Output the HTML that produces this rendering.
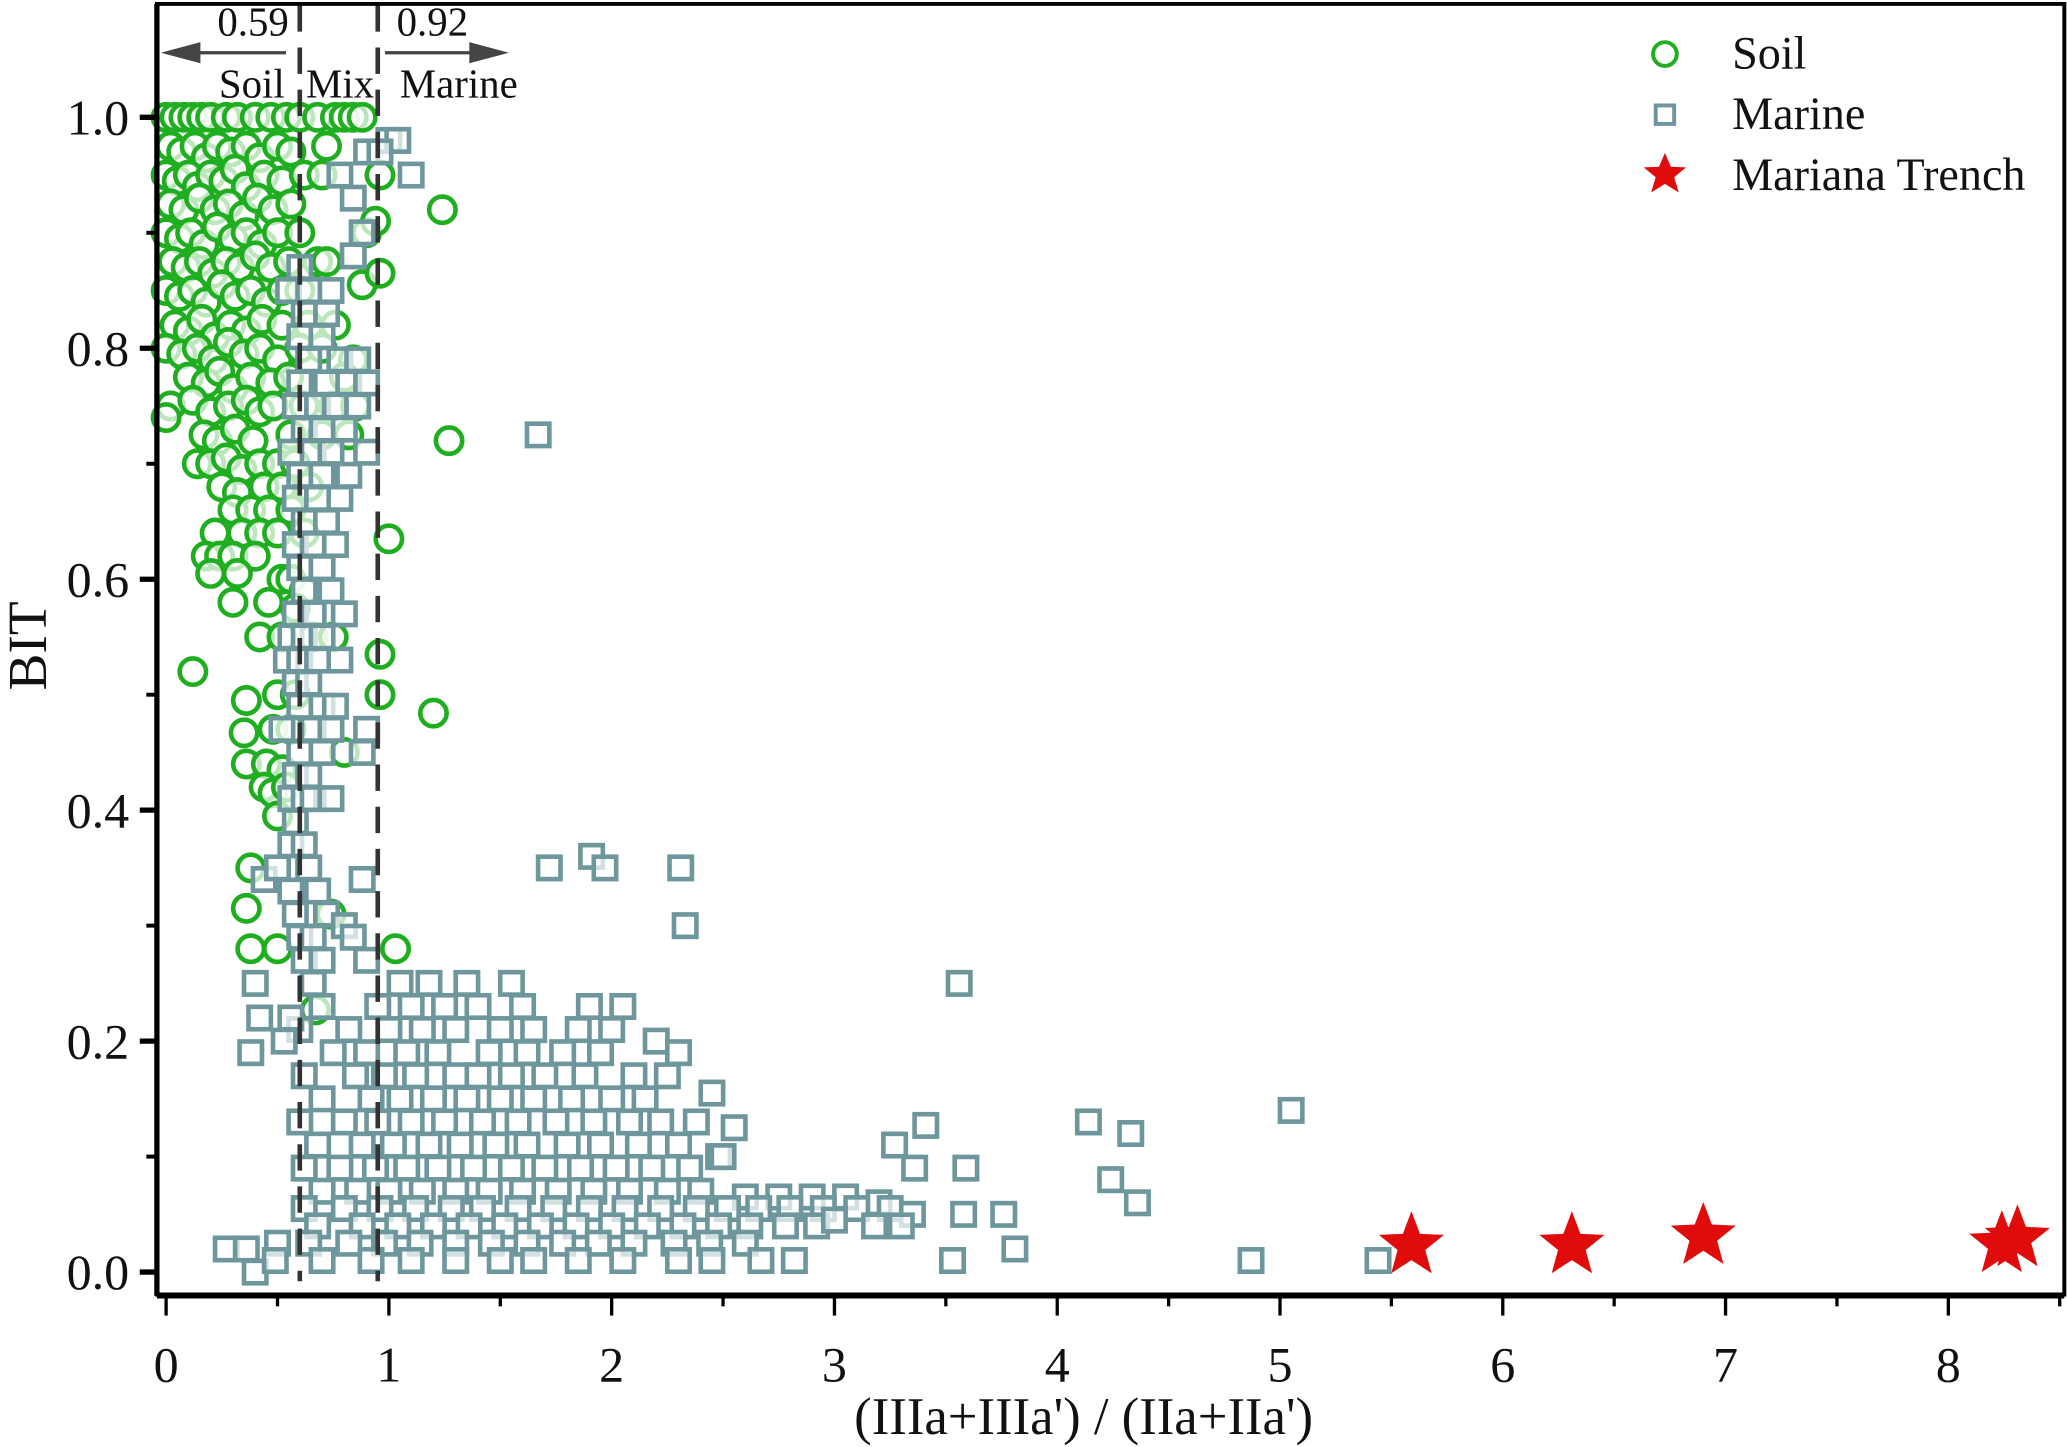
<!DOCTYPE html>
<html><head><meta charset="utf-8"><style>
html,body{margin:0;padding:0;background:#fff}
svg{display:block}
text{font-family:"Liberation Serif",serif;fill:#111}
</style></head><body>
<svg id="chart" width="2067" height="1447" viewBox="0 0 1568 1097.7" xmlns="http://www.w3.org/2000/svg">
<g id="marks"></g>
<g id="axes"></g>
</svg>
<script>
const xTicks=[0,1,2,3,4,5,6,7,8];
const yTicks=[0.0,0.2,0.4,0.6,0.8,1.0];
const boundaries=[0.6,0.95];
const soilPts=[
[0,1],[0.04,1],[0.08,1],[0.12,1],[0.16,1],[0.2,1],[0.27,1],[0.32,1],[0.4,1],[0.47,1],[0.54,1],[0.6,1],[0.68,1],[0.76,1],[0.8,1],[0.84,1],[0.88,1],
[0.02,0.975],[0.07,0.97],[0.13,0.975],[0.18,0.965],[0.23,0.975],[0.29,0.97],[0.36,0.975],[0.42,0.965],[0.5,0.975],[0.56,0.97],[0.72,0.975],
[0,0.95],[0.05,0.945],[0.1,0.95],[0.14,0.94],[0.2,0.95],[0.26,0.945],[0.31,0.955],[0.36,0.94],[0.44,0.95],[0.52,0.945],[0.62,0.95],[0.7,0.95],[0.96,0.95],
[0.02,0.925],[0.08,0.92],[0.15,0.93],[0.22,0.92],[0.28,0.925],[0.35,0.915],[0.41,0.93],[0.48,0.92],[0.56,0.925],
[0,0.9],[0.06,0.895],[0.11,0.9],[0.17,0.89],[0.23,0.905],[0.3,0.895],[0.36,0.9],[0.43,0.89],[0.5,0.9],[0.6,0.9],[0.9,0.9],[0.94,0.91],
[0.03,0.875],[0.09,0.87],[0.15,0.875],[0.21,0.865],[0.27,0.875],[0.33,0.87],[0.4,0.88],[0.47,0.87],[0.55,0.875],[0.68,0.875],[0.72,0.875],
[0,0.85],[0.06,0.845],[0.12,0.85],[0.18,0.84],[0.25,0.855],[0.31,0.845],[0.38,0.85],[0.45,0.84],[0.52,0.85],[0.6,0.85],[0.88,0.855],
[0.04,0.82],[0.1,0.815],[0.16,0.825],[0.22,0.81],[0.29,0.82],[0.36,0.815],[0.43,0.825],[0.52,0.82],[0.64,0.82],[0.76,0.82],
[0,0.8],[0.07,0.795],[0.14,0.8],[0.21,0.79],[0.28,0.805],[0.35,0.795],[0.42,0.8],[0.5,0.79],[0.6,0.8],[0.7,0.8],[0.84,0.79],
[0.1,0.775],[0.18,0.77],[0.24,0.78],[0.3,0.765],[0.38,0.775],[0.47,0.77],[0.55,0.775],[0.8,0.775],
[0.02,0.75],[0.12,0.755],[0.2,0.745],[0.28,0.75],[0.36,0.755],[0.42,0.745],[0.48,0.75],[0.62,0.75],[0.75,0.75],[0.85,0.75],[0,0.74],
[0.17,0.725],[0.23,0.72],[0.31,0.73],[0.39,0.72],[0.56,0.725],[0.7,0.725],[0.82,0.725],
[0.14,0.7],[0.2,0.7],[0.27,0.705],[0.34,0.695],[0.42,0.7],[0.5,0.7],[0.58,0.7],
[0.25,0.68],[0.32,0.675],[0.44,0.68],[0.52,0.68],[0.64,0.68],
[0.3,0.66],[0.38,0.66],[0.46,0.66],[0.56,0.66],
[0.22,0.64],[0.34,0.64],[0.42,0.64],[0.5,0.64],[0.62,0.64],
[0.18,0.62],[0.24,0.62],[0.3,0.62],[0.4,0.62],
[0.2,0.605],[0.32,0.605],[0.52,0.6],[0.56,0.6],[0.62,0.59],
[0.3,0.58],[0.46,0.58],[0.58,0.575],
[0.42,0.55],[0.52,0.55],[0.66,0.55],[0.12,0.52],
[0.36,0.495],[0.5,0.5],[0.58,0.5],[0.35,0.467],[0.48,0.47],[0.56,0.47],
[0.36,0.44],[0.45,0.44],[0.52,0.435],[0.44,0.42],[0.48,0.415],[0.54,0.42],[0.5,0.395],
[0.38,0.35],[0.36,0.315],[0.74,0.31],[0.38,0.28],[0.5,0.28],
[1.24,0.92],[1.27,0.72],[1.0,0.635],[1.2,0.484],[1.03,0.28],[0.96,0.5],[0.96,0.535],[0.96,0.865],[0.67,0.227],[0.75,0.55],[0.8,0.45]
];
const marinePts=[
[1.0,0.98],[1.04,0.98],[0.9,0.97],[0.96,0.97],[0.78,0.95],[1.1,0.95],[0.84,0.93],[0.88,0.9],[0.84,0.88],[0.6,0.87],
[0.55,0.85],[0.74,0.85],[0.64,0.85],[0.72,0.83],[0.62,0.83],[0.6,0.81],[0.7,0.81],[0.64,0.79],[0.78,0.79],[0.86,0.79],
[0.6,0.77],[0.72,0.77],[0.82,0.77],[0.9,0.77],[0.58,0.75],[0.68,0.75],[0.76,0.75],[0.86,0.75],[0.62,0.73],[0.7,0.73],[0.8,0.73],
[0.56,0.71],[0.66,0.71],[0.74,0.71],[0.9,0.71],[0.6,0.69],[0.7,0.69],[0.82,0.69],[0.58,0.67],[0.68,0.67],[0.78,0.67],
[0.62,0.65],[0.72,0.65],[0.58,0.63],[0.66,0.63],[0.76,0.63],[0.6,0.61],[0.7,0.61],[0.62,0.59],[0.74,0.59],
[0.58,0.57],[0.66,0.57],[0.8,0.57],[0.56,0.55],[0.62,0.55],[0.7,0.55],[0.54,0.53],[0.6,0.53],[0.68,0.53],[0.78,0.53],
[0.58,0.51],[0.64,0.51],[0.6,0.49],[0.7,0.49],[0.76,0.49],[0.52,0.47],[0.66,0.47],[0.74,0.47],[0.9,0.47],
[0.6,0.45],[0.7,0.45],[0.88,0.45],[0.58,0.43],[0.64,0.43],[0.56,0.41],[0.62,0.41],[0.66,0.41],[0.74,0.41],[0.58,0.39],
[0.56,0.37],[0.62,0.37],[0.64,0.35],[0.88,0.34],[0.56,0.33],[0.68,0.33],[0.58,0.31],[0.72,0.31],[0.8,0.3],
[0.6,0.29],[0.66,0.29],[0.84,0.29],[0.62,0.27],[0.7,0.27],[0.9,0.27],
[0.66,0.25],[1.05,0.25],[1.18,0.25],[1.35,0.25],[1.55,0.25],
[0.7,0.23],[0.95,0.23],[1.1,0.23],[1.25,0.23],[1.4,0.23],[1.6,0.23],[1.9,0.23],[2.05,0.23],
[0.6,0.21],[0.82,0.21],[1.0,0.21],[1.15,0.21],[1.3,0.21],[1.5,0.21],[1.65,0.21],[1.85,0.21],[2.0,0.21],[2.2,0.2],
[0.75,0.19],[0.9,0.19],[1.08,0.19],[1.22,0.19],[1.45,0.19],[1.62,0.19],[1.78,0.19],[1.95,0.19],[2.3,0.19],
[0.62,0.17],[0.85,0.17],[0.98,0.17],[1.12,0.17],[1.3,0.17],[1.4,0.17],[1.55,0.17],[1.7,0.17],[1.88,0.17],[2.1,0.17],[2.25,0.17],
[0.7,0.15],[0.92,0.15],[1.05,0.15],[1.2,0.15],[1.35,0.15],[1.5,0.15],[1.65,0.15],[1.82,0.15],[2.0,0.15],[2.15,0.15],[2.45,0.155],
[0.6,0.13],[0.8,0.13],[0.95,0.13],[1.1,0.13],[1.25,0.13],[1.42,0.13],[1.58,0.13],[1.75,0.13],[1.92,0.13],[2.08,0.13],[2.22,0.13],[2.38,0.13],[2.55,0.125],
[0.68,0.11],[0.88,0.11],[1.02,0.11],[1.18,0.11],[1.32,0.11],[1.48,0.11],[1.62,0.11],[1.8,0.11],[1.95,0.11],[2.12,0.11],[2.3,0.11],[2.48,0.1],
[0.62,0.09],[0.78,0.09],[0.94,0.09],[1.08,0.09],[1.22,0.09],[1.38,0.09],[1.55,0.09],[1.7,0.09],[1.86,0.09],[2.02,0.09],[2.18,0.09],[2.35,0.09],
[0.7,0.07],[0.86,0.07],[1.0,0.07],[1.15,0.07],[1.3,0.07],[1.45,0.07],[1.6,0.07],[1.76,0.07],[1.92,0.07],[2.08,0.07],[2.25,0.07],[2.4,0.07],[2.6,0.065],[2.75,0.065],[2.9,0.065],[3.05,0.065],[3.2,0.06],
[0.62,0.055],[0.8,0.055],[0.96,0.055],[1.12,0.055],[1.28,0.055],[1.42,0.055],[1.58,0.055],[1.74,0.055],[1.9,0.055],[2.06,0.055],[2.22,0.055],[2.38,0.055],[2.52,0.055],[2.66,0.055],[2.8,0.055],[2.95,0.055],[3.1,0.055],[3.25,0.055],[3.35,0.05],
[0.68,0.04],[0.88,0.04],[1.04,0.04],[1.2,0.04],[1.36,0.04],[1.52,0.04],[1.68,0.04],[1.84,0.04],[2.0,0.04],[2.16,0.04],[2.32,0.04],[2.48,0.04],[2.62,0.04],[2.78,0.04],[2.92,0.04],[3.0,0.045],[3.18,0.04],[3.3,0.04],
[0.5,0.025],[0.64,0.025],[0.82,0.025],[0.98,0.025],[1.14,0.025],[1.3,0.025],[1.46,0.025],[1.62,0.025],[1.78,0.025],[1.94,0.025],[2.1,0.025],[2.28,0.025],[2.44,0.025],[2.6,0.025],
[0.7,0.01],[0.92,0.01],[1.1,0.01],[1.3,0.01],[1.5,0.01],[1.65,0.01],[1.85,0.01],[2.05,0.01],[2.3,0.01],
[0.38,0.19],[0.4,0.25],[0.42,0.22],[0.27,0.02],[0.36,0.02],[0.4,0.0],[0.49,0.01],[0.53,0.2],[0.56,0.22],[0.44,0.34],[0.5,0.35],
[1.67,0.725],[1.91,0.36],[1.72,0.35],[1.97,0.35],[2.31,0.35],[2.33,0.30],[3.56,0.25],[5.05,0.14],[4.14,0.13],[4.33,0.12],
[3.41,0.127],[3.27,0.11],[3.36,0.09],[3.59,0.09],[4.24,0.08],[4.36,0.06],[3.76,0.05],[3.58,0.05],[3.81,0.02],[3.53,0.01],
[4.87,0.01],[5.44,0.01],[2.5,0.1],[2.82,0.01],[2.67,0.01],[2.45,0.01]
];
const trenchX=[5.59,6.31,6.90,8.24,8.31];
const trenchY=[0.023,0.023,0.031,0.024,0.029];

const NS="http://www.w3.org/2000/svg";
const X0=126,XS=169,Y0=965,YS=876;
function sx(v){return X0+v*XS;}
function sy(v){return Y0-v*YS;}
function mk(tag,attrs,parent){const e=document.createElementNS(NS,tag);for(const k in attrs)e.setAttribute(k,attrs[k]);parent.appendChild(e);return e;}
const marks=document.getElementById('marks');
const axes=document.getElementById('axes');

soilPts.forEach(p=>{
  const c=mk('circle',{cx:sx(p[0]),cy:sy(p[1]),r:10,fill:'rgba(255,255,255,0.7)',stroke:'#1fae1f','stroke-width':3.5},marks);
  
  
});
marinePts.forEach(p=>{
  const s=mk('rect',{x:sx(p[0])-8.5,y:sy(p[1])-8.5,width:17,height:17,fill:'rgba(255,255,255,0.7)',stroke:'#6d979d','stroke-width':3.5},marks);
  
  
});
boundaries.forEach(b=>{
  const l=mk('line',{x1:sx(b),x2:sx(b),y1:4,y2:972,stroke:'#333','stroke-width':3.5,'stroke-dasharray':'20,12'},marks);
  
  
});
function starPath(cx,cy,R,r){let d='';for(let i=0;i<10;i++){const a=-Math.PI/2+i*Math.PI/5;const rr=i%2?r:R;d+=(i?'L':'M')+(cx+rr*Math.cos(a)).toFixed(1)+','+(cy+rr*Math.sin(a)).toFixed(1);}return d+'Z';}
trenchX.forEach((x,i)=>{
  const s=mk('path',{d:starPath(sx(x),sy(trenchY[i]),26,11),fill:'#e00b0b'},marks);
  
  
});

const fr=mk('path',{d:'M119,3 H1566 V982 H119 Z',fill:'none',stroke:'#000','stroke-width':3},axes);


mk('line',{x1:119,x2:1566,y1:983,y2:983,stroke:'#000','stroke-width':4},axes);
mk('line',{x1:119,x2:119,y1:3,y2:983,stroke:'#000','stroke-width':4},axes);
for(let v=0;v<=8.5;v+=0.5){
  const major=Number.isInteger(v);
  mk('line',{x1:sx(v),x2:sx(v),y1:983,y2:major?998:991,stroke:'#000','stroke-width':2.5},axes);
}
xTicks.forEach(v=>{
  const t=mk('text',{x:sx(v),y:1048,'text-anchor':'middle','font-size':38},axes);
  t.textContent=v;
  
  
});
for(let i=0;i<=10;i++){
  const v=i/10;const major=i%2===0;
  mk('line',{x1:119,x2:major?106:111,y1:sy(v),y2:sy(v),stroke:'#000','stroke-width':major?4:3},axes);
}
yTicks.forEach(v=>{
  const t=mk('text',{x:98,y:sy(v)+13,'text-anchor':'end','font-size':38},axes);
  t.textContent=v.toFixed(1);
  
  
});
</script>
<svg style="position:absolute;left:0;top:0" width="2067" height="1447" viewBox="0 0 1568 1097.7" xmlns="http://www.w3.org/2000/svg">
<text x="822" y="1088" text-anchor="middle" font-size="40" style="font-family:'Liberation Serif',serif">(IIIa+IIIa') / (IIa+IIa')</text>
<text transform="translate(35,490) rotate(-90)" text-anchor="middle" font-size="42" style="font-family:'Liberation Serif',serif">BIT</text>
<g>
<line x1="138" y1="40" x2="217" y2="40" stroke="#444" stroke-width="2.5"/>
<polygon points="122,40 152,32 152,48" fill="#444"/>
</g>
<g>
<line x1="292" y1="40" x2="370" y2="40" stroke="#444" stroke-width="2.5"/>
<polygon points="386,40 356,32 356,48" fill="#444"/>
</g>
<text x="192" y="27" text-anchor="middle" font-size="31" style="font-family:'Liberation Serif',serif">0.59</text>
<text x="328" y="27" text-anchor="middle" font-size="31" style="font-family:'Liberation Serif',serif">0.92</text>
<text x="191" y="74" text-anchor="middle" font-size="31" style="font-family:'Liberation Serif',serif">Soil</text>
<text x="258" y="74" text-anchor="middle" font-size="31" style="font-family:'Liberation Serif',serif">Mix</text>
<text x="348" y="74" text-anchor="middle" font-size="31" style="font-family:'Liberation Serif',serif">Marine</text>
<g>
<g>
<circle cx="1263" cy="41" r="9" fill="#fff" stroke="#1fae1f" stroke-width="3"/>
<text x="1314" y="52" font-size="35" style="font-family:'Liberation Serif',serif">Soil</text></g>
<g>
<rect x="1256" y="80" width="14" height="14" fill="#fff" stroke="#6d979d" stroke-width="3"/>
<text x="1314" y="98" font-size="35" style="font-family:'Liberation Serif',serif">Marine</text></g>
<g>
<path d="M1263,116 L1267.5,126.5 L1279,127 L1270,134.5 L1273.5,146 L1263,139.5 L1252.5,146 L1256,134.5 L1247,127 L1258.5,126.5 Z" fill="#e00b0b"/>
<text x="1314" y="144" font-size="35" style="font-family:'Liberation Serif',serif">Mariana Trench</text></g>
</g>
</svg>
</body></html>
